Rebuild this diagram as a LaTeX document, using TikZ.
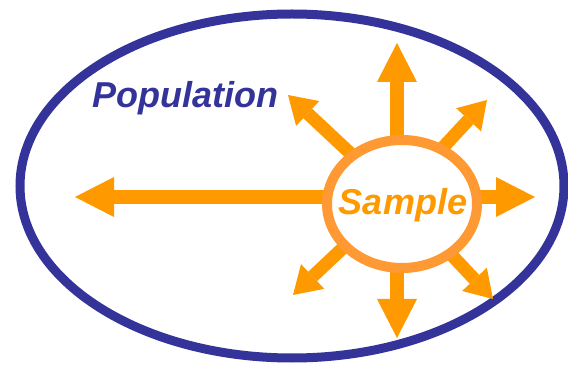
\documentclass[tikz,border=0pt]{standalone}
\usepackage{fontspec}
\setmainfont{Liberation Sans}
\usetikzlibrary{arrows.meta,shapes.geometric}
\definecolor{popblue}{HTML}{333399}
\definecolor{arroworange}{HTML}{FF9900}
\definecolor{ringorange}{HTML}{FF9933}
\begin{document}
\begin{tikzpicture}[x=1pt,y=-1pt,
  bigarrow/.style={draw=arroworange, line width=14pt, -{Triangle[width=40pt,length=39pt,line width=0pt]}},
  diagarrow/.style={draw=arroworange, line width=13pt, -{Triangle[width=34pt,length=27pt,line width=0pt]}},
  lbl/.style={font=\bfseries\itshape\fontsize{36}{40}\selectfont, inner sep=0pt}
]
\useasboundingbox (0,0) rectangle (568,366);
\node[ellipse, draw=popblue, line width=9pt, minimum width=544pt, minimum height=344pt, inner sep=0pt] (population) at (292,186) {};
\node[lbl, anchor=base west, text=popblue] (poplabel) at (92,108) {Population};
\coordinate (hub) at (397,197);
\coordinate (tipW) at (75,197);
\coordinate (tipE) at (535,197);
\coordinate (tipN) at (397,43);
\coordinate (tipS) at (397,338);
\coordinate (tipNW) at (288,95);
\coordinate (tipNE) at (487,100);
\coordinate (tipSW) at (293,295);
\coordinate (tipSE) at (493,299);
\draw[bigarrow] (hub) -- (tipW);
\draw[bigarrow] (hub) -- (tipE);
\draw[bigarrow] (hub) -- (tipN);
\draw[bigarrow] (hub) -- (tipS);
\draw[diagarrow] (hub) -- (tipNW);
\draw[diagarrow] (hub) -- (tipNE);
\draw[diagarrow] (hub) -- (tipSW);
\draw[diagarrow] (hub) -- (tipSE);
\node[ellipse, draw=ringorange, fill=white, line width=10pt, minimum width=150pt, minimum height=128pt, inner sep=0pt] (sample) at (402,204) {};
\node[lbl, anchor=base, text=arroworange] (samplelabel) at (403,215) {Sample};
\end{tikzpicture}
\end{document}
